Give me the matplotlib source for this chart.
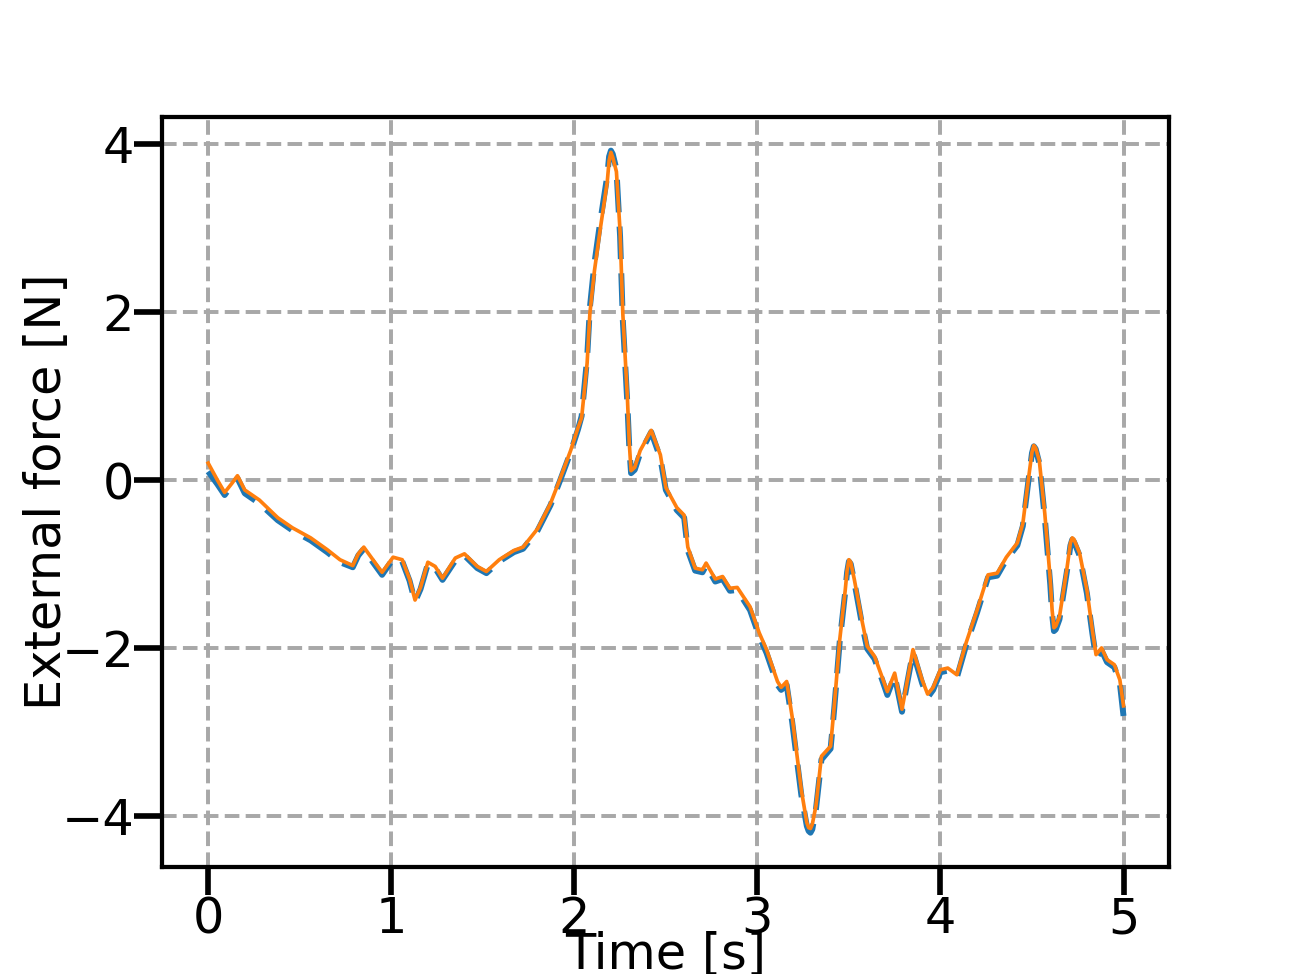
import matplotlib.pyplot as plt
import numpy as np

# time samples [s]
time_s = [
    0.00, 0.05, 0.09, 0.13, 0.16, 0.20, 0.28, 0.38, 0.46, 0.56, 0.65,
    0.72, 0.79, 0.82, 0.85, 0.90, 0.95, 1.01, 1.06, 1.10, 1.13, 1.16, 1.20, 1.24, 1.28,
    1.35, 1.40, 1.47, 1.52, 1.59, 1.67, 1.72, 1.80, 1.87, 1.92,
    1.98, 2.02, 2.04, 2.07, 2.085, 2.11, 2.14, 2.18, 2.19, 2.20, 2.21, 2.23,
    2.25, 2.265, 2.29, 2.30, 2.31, 2.33, 2.36, 2.42, 2.47, 2.50, 2.56, 2.60,
    2.62, 2.66, 2.70, 2.72, 2.77, 2.81, 2.85, 2.89, 2.96, 3.01,
    3.05, 3.11, 3.13, 3.16, 3.19, 3.24, 3.27, 3.28, 3.29, 3.30, 3.32, 3.35,
    3.40, 3.42, 3.45, 3.48, 3.49, 3.50, 3.51, 3.53, 3.57, 3.60, 3.64, 3.68,
    3.71, 3.75, 3.79, 3.82, 3.85, 3.90, 3.93, 3.96, 4.00, 4.04, 4.09, 4.14,
    4.20, 4.26, 4.31, 4.36, 4.42, 4.45, 4.48, 4.50, 4.51, 4.52, 4.54, 4.57,
    4.60, 4.61, 4.62, 4.63, 4.65, 4.69, 4.71, 4.72, 4.73, 4.76, 4.80, 4.83, 4.85, 4.88,
    4.91, 4.95, 4.98, 5.00,
]

# measured force (blue, dashed) [N]
force_ref = [
    0.10, -0.05, -0.18, -0.06, 0.02, -0.16, -0.28, -0.48, -0.60, -0.72, -0.86,
    -0.98, -1.04, -0.90, -0.82, -0.98, -1.13, -0.94, -0.97, -1.20, -1.45, -1.30, -1.00, -1.05, -1.19,
    -0.96, -0.90, -1.05, -1.11, -0.97, -0.86, -0.82, -0.60, -0.30, -0.02,
    0.33, 0.60, 0.76, 1.45, 2.05, 2.58, 3.05, 3.62, 3.85, 3.92, 3.88, 3.70,
    2.90, 1.90, 0.90, 0.40, 0.08, 0.12, 0.32, 0.57, 0.26, -0.12, -0.36, -0.45,
    -0.84, -1.08, -1.10, -1.02, -1.21, -1.18, -1.32, -1.31, -1.55, -1.86,
    -2.06, -2.44, -2.50, -2.44, -2.88, -3.75, -4.12, -4.18, -4.20, -4.16, -3.92, -3.33,
    -3.20, -2.72, -1.92, -1.33, -1.10, -0.97, -1.00, -1.22, -1.70, -2.01, -2.13, -2.37,
    -2.56, -2.33, -2.76, -2.40, -2.05, -2.42, -2.59, -2.50, -2.29, -2.27, -2.35, -1.97,
    -1.58, -1.16, -1.14, -0.95, -0.78, -0.55, -0.02, 0.32, 0.40, 0.37, 0.20, -0.45,
    -1.25, -1.60, -1.80, -1.78, -1.66, -1.10, -0.78, -0.71, -0.74, -0.90, -1.35, -1.83, -2.12, -2.03,
    -2.17, -2.23, -2.42, -2.81,
]

# estimated force (orange, solid) [N]
force_est = [
    0.20, 0.00, -0.15, -0.04, 0.05, -0.12, -0.24, -0.45, -0.57, -0.69, -0.83,
    -0.95, -1.02, -0.88, -0.80, -0.95, -1.10, -0.92, -0.95, -1.18, -1.43, -1.28, -0.98, -1.03, -1.17,
    -0.93, -0.88, -1.03, -1.09, -0.95, -0.84, -0.80, -0.58, -0.28, 0.00,
    0.35, 0.62, 0.74, 1.39, 1.98, 2.49, 2.96, 3.55, 3.80, 3.90, 3.84, 3.67,
    2.96, 1.98, 0.98, 0.45, 0.11, 0.15, 0.35, 0.59, 0.30, -0.09, -0.33, -0.42,
    -0.80, -1.05, -1.07, -0.99, -1.18, -1.15, -1.29, -1.28, -1.51, -1.82,
    -2.02, -2.40, -2.47, -2.40, -2.82, -3.69, -4.08, -4.14, -4.15, -4.10, -3.88, -3.29,
    -3.17, -2.69, -1.90, -1.31, -1.08, -0.95, -0.98, -1.19, -1.66, -1.98, -2.10, -2.34,
    -2.52, -2.30, -2.73, -2.38, -2.02, -2.38, -2.55, -2.47, -2.26, -2.24, -2.32, -1.94,
    -1.55, -1.13, -1.11, -0.92, -0.75, -0.52, 0.00, 0.33, 0.41, 0.38, 0.23, -0.40,
    -1.19, -1.55, -1.76, -1.74, -1.63, -1.07, -0.75, -0.69, -0.71, -0.87, -1.31, -1.79, -2.08, -2.00,
    -2.14, -2.20, -2.38, -2.69,
]

plt.rcParams["font.size"] = 17.5

fig, ax = plt.subplots(figsize=(6.4, 4.8), dpi=203)

ax.plot(time_s, force_ref, color="#1f77b4", linewidth=2.1, dashes=(5.5, 2.4))
ax.plot(time_s, force_est, color="#ff7f0e", linewidth=1.3)

ax.set_xticks([0, 1, 2, 3, 4, 5])
ax.set_yticks([-4, -2, 0, 2, 4])
ax.grid(True, color="#a8a8a8", linestyle="--", linewidth=1.4)

ax.tick_params(direction="out", length=10, width=2, pad=0)
for spine in ax.spines.values():
    spine.set_linewidth(1.5)

ax.set_xlabel("Time [s]", labelpad=-4.5)
ax.set_ylabel("External force [N]", labelpad=-3.5)

fig.savefig("out.png", dpi=203)
